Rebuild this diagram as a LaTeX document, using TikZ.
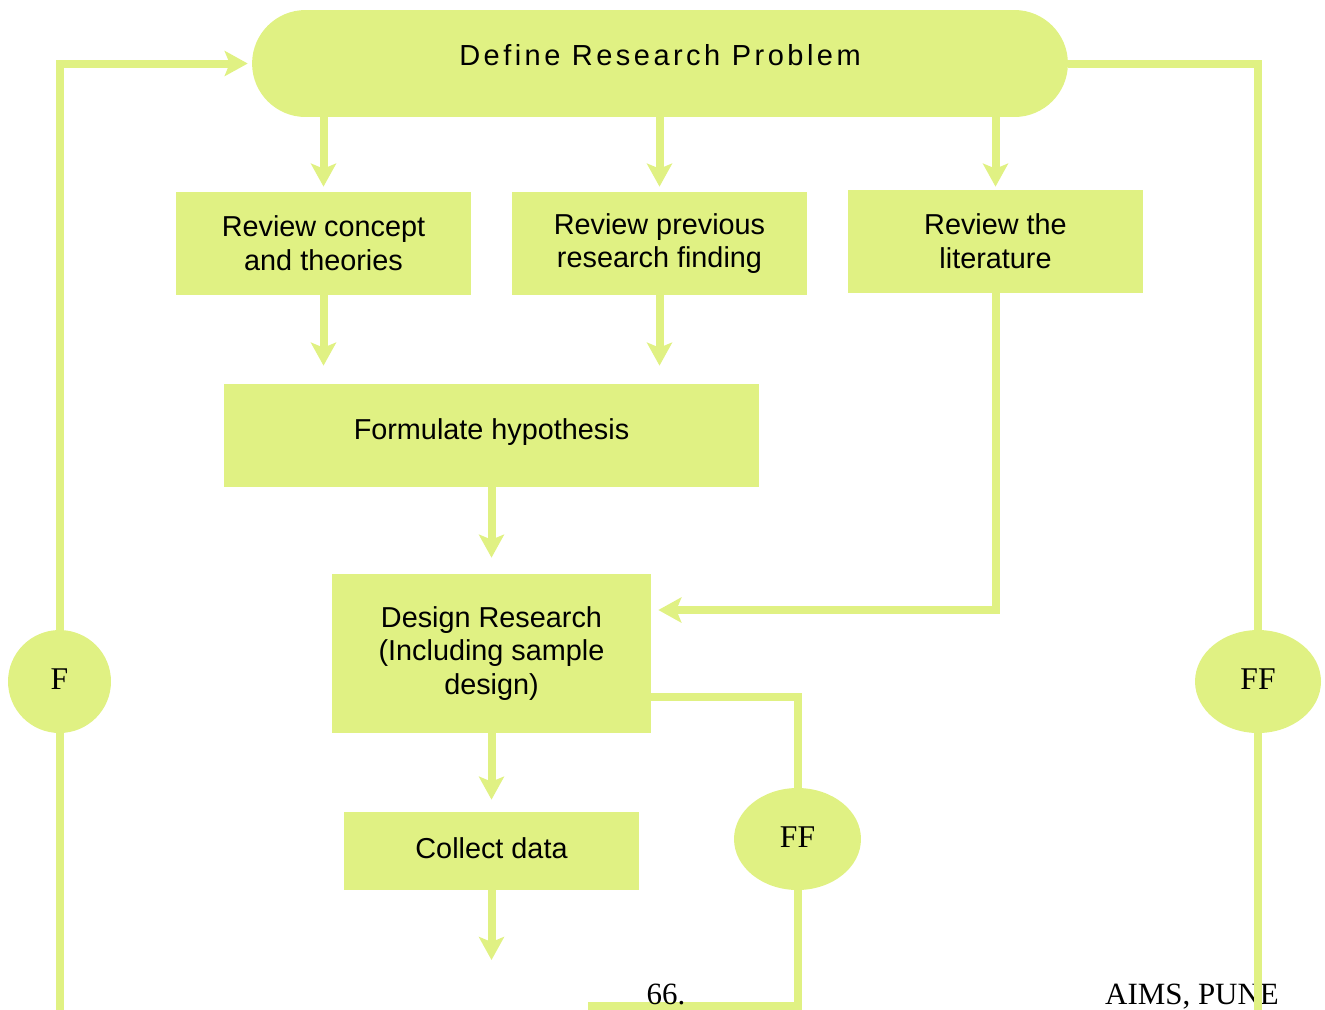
\documentclass[tikz,border=0pt]{standalone}
\usepackage{fontspec}
\setmainfont{Liberation Serif}
\setsansfont{Liberation Sans}
\newfontfamily\spacedsans[LetterSpace=12]{Liberation Sans}
\usetikzlibrary{shapes.geometric}
\usetikzlibrary{arrows.meta}
\definecolor{limefill}{RGB}{224,241,131}

\begin{document}
\begin{tikzpicture}[x=0.02cm,y=-0.02cm]
\tikzset{box/.style = {shape=rectangle,fill=limefill,align=center,inner sep=0pt,font=\sffamily\fontsize{16.4}{19.2}\selectfont}}
\tikzset{bubble/.style = {shape=ellipse,fill=limefill,inner sep=0pt,font=\rmfamily\fontsize{18}{20}\selectfont}}
\tikzset{footer/.style = {anchor=base,inner sep=0pt,font=\rmfamily\fontsize{17.6}{20}\selectfont}}
\tikzset{link/.style = {draw=limefill,line width=0.16cm}}
\tikzset{edge/.style = {link,-{Stealth[length=0.46cm,width=0.5cm,inset=0.1cm]}}}
\useasboundingbox (0,0) rectangle (1325,1009);
\node[box, rounded corners=1.07cm, minimum width=16.32cm, minimum height=2.14cm] (v_def) at (660,63.5) {\raisebox{0.36cm}{\spacedsans\fontsize{16.5}{18}\selectfont Define Research Problem}};
\node[box, minimum width=5.9cm, minimum height=2.06cm] (v_con) at (323.5,243.5) {Review concept\\and theories};
\node[box, minimum width=5.9cm, minimum height=2.06cm] (v_pre) at (659.5,243.5) {Review previous\\research finding};
\node[box, minimum width=5.9cm, minimum height=2.06cm] (v_lit) at (995.5,241.5) {Review the\\literature};
\node[box, minimum width=10.7cm, minimum height=2.06cm] (v_hyp) at (491.5,435.5) {\raisebox{0.24cm}{Formulate hypothesis}};
\node[box, minimum width=6.38cm, minimum height=3.18cm] (v_des) at (491.5,653.5) {Design Research\\(Including sample\\design)};
\node[box, minimum width=5.9cm, minimum height=1.56cm] (v_col) at (491.5,851) {\raisebox{0.12cm}{Collect data}};
\node[bubble, minimum width=2.06cm, minimum height=2.06cm] (v_f) at (59.5,681.5) {\raisebox{0.08cm}{F}};
\node[bubble, minimum width=2.52cm, minimum height=2.06cm] (v_ffr) at (1258,681.5) {\raisebox{0.08cm}{FF}};
\node[bubble, minimum width=2.54cm, minimum height=2.04cm] (v_ffm) at (797.5,839) {\raisebox{0.08cm}{FF}};
\node[footer] (v_aims) at (1192,1004) {AIMS, PUNE};
\coordinate (c_fl) at (59.5,1012);
\coordinate (c_fr) at (1258,1012);
\coordinate (c_fm) at (588,1006);
\coordinate (c_col) at (491.5,960);
% top row
\draw[edge, shorten >=0.1cm] (v_def.south -| v_con) -- (v_con);
\draw[edge, shorten >=0.1cm] (v_def.south -| v_pre) -- (v_pre);
\draw[edge, shorten >=0.06cm] (v_def.south -| v_lit) -- (v_lit);
% middle column
\draw[edge, shorten >=0.36cm] (v_con) -- (v_hyp.north -| v_con);
\draw[edge, shorten >=0.36cm] (v_pre) -- (v_hyp.north -| v_pre);
\draw[edge, shorten >=0.32cm] (v_hyp) -- (v_des);
\draw[edge, shorten >=0.24cm] (v_des) -- (v_col);
\draw[edge] (v_col) -- (c_col);
\draw[edge, shorten >=0.14cm] (v_lit) |- ([yshift=0.87cm]v_des.east);
% feedback loops
\draw[link] ([yshift=-0.87cm]v_des.east) -| (v_ffm);
\draw[link] (v_ffm) |- (c_fm);
\draw[link] (c_fl) -- (v_f);
\draw[edge, shorten >=0.08cm] (v_f) |- (v_def.west);
\draw[link] (v_def.east) -| (v_ffr);
\draw[link] (v_ffr) -- (c_fr);
\node[footer] (v_page) at (666,1004) {66.};
\end{tikzpicture}
\end{document}
